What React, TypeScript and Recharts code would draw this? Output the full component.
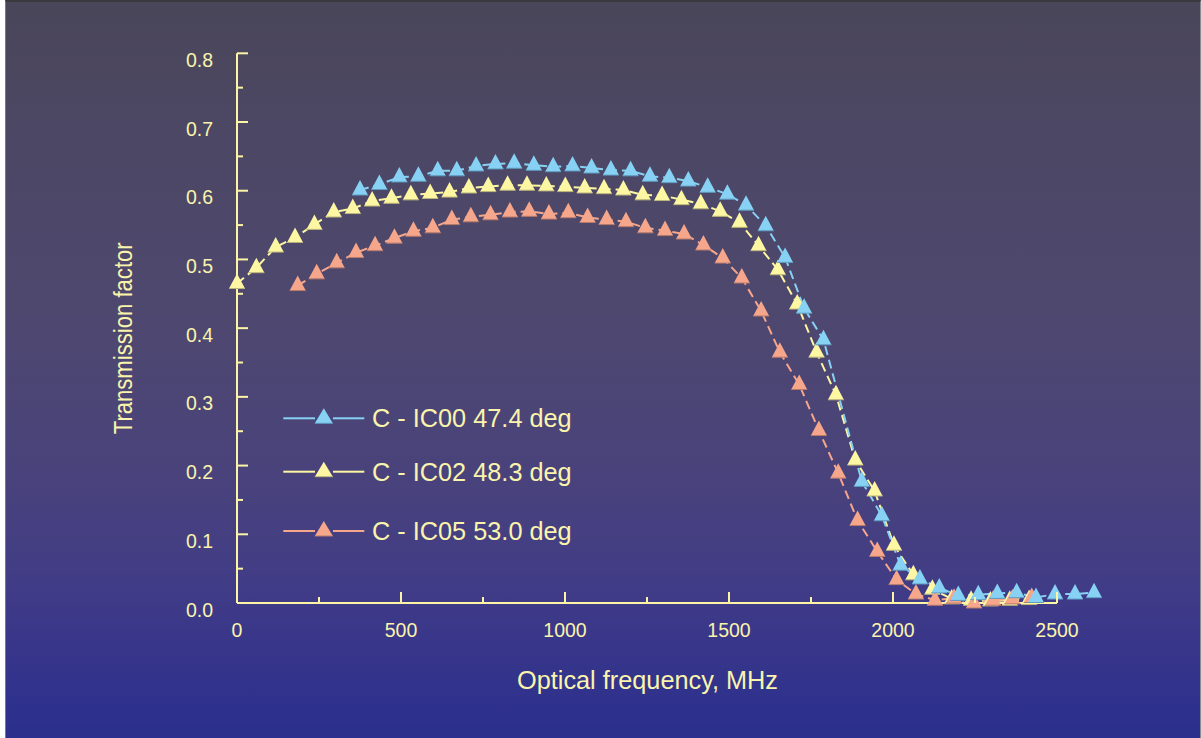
import React from 'react';
import { LineChart, Line, XAxis, YAxis, ReferenceLine, Legend } from 'recharts';

// ---------- data ----------
const IC00_X = [375, 434, 495, 553, 612, 670, 729, 788, 845, 905, 964, 1023, 1081, 1140, 1200, 1259, 1318, 1376, 1435, 1495, 1552, 1612, 1671, 1729, 1788, 1905, 1966, 2023, 2082, 2141, 2199, 2260, 2318, 2377, 2436, 2494, 2555, 2613];
const IC00_Y = [0.601, 0.609, 0.620, 0.621, 0.629, 0.629, 0.636, 0.639, 0.640, 0.637, 0.635, 0.636, 0.633, 0.630, 0.629, 0.621, 0.619, 0.614, 0.605, 0.595, 0.579, 0.549, 0.503, 0.429, 0.383, 0.177, 0.127, 0.055, 0.035, 0.022, 0.011, 0.012, 0.014, 0.015, 0.008, 0.013, 0.013, 0.015];

const IC02_X = [0, 59, 118, 177, 236, 295, 353, 412, 471, 530, 589, 648, 707, 766, 825, 884, 943, 1001, 1060, 1119, 1178, 1237, 1296, 1355, 1414, 1473, 1532, 1590, 1649, 1708, 1767, 1826, 1885, 1944, 2003, 2062, 2120, 2179, 2238, 2297, 2356, 2415];
const IC02_Y = [0.465, 0.488, 0.518, 0.532, 0.551, 0.569, 0.574, 0.585, 0.589, 0.594, 0.596, 0.598, 0.604, 0.606, 0.608, 0.608, 0.607, 0.606, 0.604, 0.603, 0.601, 0.594, 0.593, 0.587, 0.581, 0.570, 0.554, 0.520, 0.485, 0.435, 0.365, 0.303, 0.208, 0.163, 0.084, 0.041, 0.020, 0.006, 0.004, 0.003, 0.004, 0.005];

const IC05_X = [185, 243, 304, 363, 421, 480, 538, 597, 655, 713, 773, 832, 891, 951, 1010, 1069, 1127, 1186, 1245, 1305, 1363, 1422, 1481, 1539, 1598, 1655, 1714, 1774, 1833, 1892, 1952, 2011, 2070, 2128, 2186, 2247, 2305, 2364, 2423];
const IC05_Y = [0.462, 0.479, 0.495, 0.510, 0.520, 0.531, 0.541, 0.546, 0.558, 0.562, 0.565, 0.569, 0.570, 0.566, 0.568, 0.561, 0.558, 0.555, 0.546, 0.542, 0.537, 0.521, 0.502, 0.473, 0.425, 0.365, 0.318, 0.251, 0.189, 0.120, 0.075, 0.034, 0.013, 0.004, 0.007, 0.000, 0.004, 0.006, 0.008];

const SERIES_NAMES = ['C - IC00 47.4 deg', 'C - IC02 48.3 deg', 'C - IC05 53.0 deg'];
const X_TICKS = [0, 250, 500, 750, 1000, 1250, 1500, 1750, 2000, 2250, 2500];
const Y_TICKS = [0, 0.05, 0.1, 0.15, 0.2, 0.25, 0.3, 0.35, 0.4, 0.45, 0.5, 0.55, 0.6, 0.65, 0.7, 0.75, 0.8];
const X_LABEL = 'Optical frequency, MHz';
const Y_LABEL = 'Transmission factor';

const zip = (xs: number[], ys: number[]) => xs.map((x, i) => ({ x, y: ys[i] }));
const DATA_IC00 = zip(IC00_X, IC00_Y);
const DATA_IC02 = zip(IC02_X, IC02_Y);
const DATA_IC05 = zip(IC05_X, IC05_Y);

// ---------- styles ----------
const FONT = '"Liberation Sans", Arial, Helvetica, sans-serif';
const TEXT = '#faf4ac';
const AXIS = '#fbf5a5';
const BLUE = '#87d2f4';
const YELLOW = '#fdf6a2';
const SALMON = '#f6a68b';
const SHADE: Record<string, string> = {
  [SERIES_NAMES[0]]: '#5f9cc0',
  [SERIES_NAMES[1]]: '#bdb67a',
  [SERIES_NAMES[2]]: '#b87a6c',
};

const Tri = (props: any) => {
  const { cx, cy, fill, shade, w = 8 } = props;
  if (cx == null || cy == null || isNaN(cx) || isNaN(cy)) return null;
  return (
    <g>
      <polygon points={`${cx},${cy - 10} ${cx + w},${cy + 5} ${cx - w},${cy + 5}`} fill={fill} />
      <line x1={cx - w} x2={cx + w} y1={cy + 5} y2={cy + 5} stroke={shade} strokeWidth={1} />
    </g>
  );
};

const makeDot = (fill: string, shade: string) => (p: any) => (
  <Tri key={`d-${p.index}`} cx={p.cx} cy={p.cy} fill={fill} shade={shade} />
);

const XTick = (props: any) => {
  const { x, y, payload } = props;
  const v = payload.value as number;
  const major = v % 500 === 0;
  return (
    <g>
      <line x1={x} x2={x} y1={y} y2={y - (major ? 11 : 6)} stroke={AXIS} strokeWidth={2} />
      {major && (
        <text x={x} y={y + 33.5} textAnchor="middle" fill={TEXT} fontSize={19.5} fontFamily={FONT}>
          {v}
        </text>
      )}
    </g>
  );
};

const YTick = (props: any) => {
  const { x, y, payload } = props;
  const v = payload.value as number;
  const major = Math.round(v * 100) % 10 === 0;
  return (
    <g>
      <line x1={x} x2={x + (major ? 11 : 6)} y1={y} y2={y} stroke={AXIS} strokeWidth={2} />
      {major && (
        <text x={x - 24} y={y + 13.5} textAnchor="end" fill={TEXT} fontSize={19.5} fontFamily={FONT}>
          {v.toFixed(1)}
        </text>
      )}
    </g>
  );
};

const ROW_Y = [28.3, 81.7, 141];

const renderLegend = (props: any) => {
  const payload: any[] = props.payload || [];
  const ordered = SERIES_NAMES.map((n) => payload.find((p) => p.value === n)).filter(Boolean);
  return (
    <svg width={320} height={160} style={{ display: 'block', overflow: 'visible' }}>
      {ordered.map((p: any, i: number) => {
        const y = ROW_Y[i];
        const c = p.color;
        return (
          <g key={p.value}>
            <line x1={13.3} x2={45} y1={y} y2={y} stroke={c} strokeWidth={2} />
            <line x1={63} x2={94.3} y1={y} y2={y} stroke={c} strokeWidth={2} />
            <Tri cx={53.8} cy={y} fill={c} shade={SHADE[p.value]} w={9} />
            <text x={102} y={y + 9} fill={TEXT} fontSize={25.3} fontFamily={FONT}>
              {p.value}
            </text>
          </g>
        );
      })}
    </svg>
  );
};

const XLabel = (props: any) => {
  const vb = props.viewBox || { x: 0, y: 0 };
  return (
    <text x={vb.x + 410.5} y={vb.y + 86} textAnchor="middle" fill={TEXT} fontSize={25.3} fontFamily={FONT}>
      {X_LABEL}
    </text>
  );
};

const YLabel = (props: any) => {
  const vb = props.viewBox || { x: 0, y: 0 };
  const cx = vb.x + 126;
  const cy = vb.y + 285;
  return (
    <text
      transform={`translate(${cx},${cy}) rotate(-90)`}
      x={0}
      y={0}
      textAnchor="middle"
      fill={TEXT}
      fontSize={26}
      fontFamily={FONT}
      textLength={192}
      lengthAdjust="spacingAndGlyphs"
    >
      {Y_LABEL}
    </text>
  );
};

export default function App() {
  return (
    <div style={{ position: 'absolute', left: 0, top: 0, width: 1201, height: 738, background: '#ffffff', overflow: 'hidden' }}>
      <div
        style={{
          position: 'absolute',
          left: 5,
          top: 0,
          width: 1194,
          height: 736,
          borderLeft: '1px solid #7a7a80',
          borderRight: '1px solid #8a8a90',
          borderTop: '2px solid #3a3a3e',
          background:
            'linear-gradient(to bottom, #4a4659 0%, #4c4764 18%, #4e486f 42%, #4a437a 62%, #433e84 76%, #3a378a 86%, #30328c 94%, #2b2f8d 100%)',
        }}
      >
        <LineChart width={1194} height={736} margin={{ top: 51.3, right: 77.4, bottom: 0, left: 0 }}>
          <XAxis
            type="number"
            dataKey="x"
            domain={[0, 2700]}
            ticks={X_TICKS}
            interval={0}
            axisLine={false}
            tickLine={false}
            tickSize={0}
            tickMargin={0}
            height={135}
            tick={<XTick />}
            label={{ content: <XLabel /> }}
          />
          <YAxis
            type="number"
            dataKey="y"
            domain={[0, 0.8]}
            ticks={Y_TICKS}
            interval={0}
            width={231}
            axisLine={{ stroke: AXIS, strokeWidth: 2 }}
            tickLine={false}
            tickSize={0}
            tickMargin={0}
            tick={<YTick />}
            label={{ content: <YLabel /> }}
          />
          <ReferenceLine
            segment={[
              { x: 0, y: 0 },
              { x: 2500, y: 0 },
            ]}
            stroke={AXIS}
            strokeWidth={2}
          />
          <Legend
            layout="vertical"
            align="center"
            verticalAlign="middle"
            content={renderLegend}
            wrapperStyle={{ left: 264, top: 388, width: 320, height: 160 }}
          />
          <Line
            data={DATA_IC02}
            dataKey="y"
            name={SERIES_NAMES[1]}
            type="linear"
            stroke={YELLOW}
            strokeWidth={2}
            strokeDasharray="9 5"
            dot={makeDot(YELLOW, SHADE[SERIES_NAMES[1]])}
            activeDot={false}
            isAnimationActive={false}
          />
          <Line
            data={DATA_IC05}
            dataKey="y"
            name={SERIES_NAMES[2]}
            type="linear"
            stroke={SALMON}
            strokeWidth={2}
            strokeDasharray="9 5"
            dot={makeDot(SALMON, SHADE[SERIES_NAMES[2]])}
            activeDot={false}
            isAnimationActive={false}
          />
          <Line
            data={DATA_IC00}
            dataKey="y"
            name={SERIES_NAMES[0]}
            type="linear"
            stroke={BLUE}
            strokeWidth={2}
            strokeDasharray="9 5"
            dot={makeDot(BLUE, SHADE[SERIES_NAMES[0]])}
            activeDot={false}
            isAnimationActive={false}
          />
        </LineChart>
      </div>
    </div>
  );
}
